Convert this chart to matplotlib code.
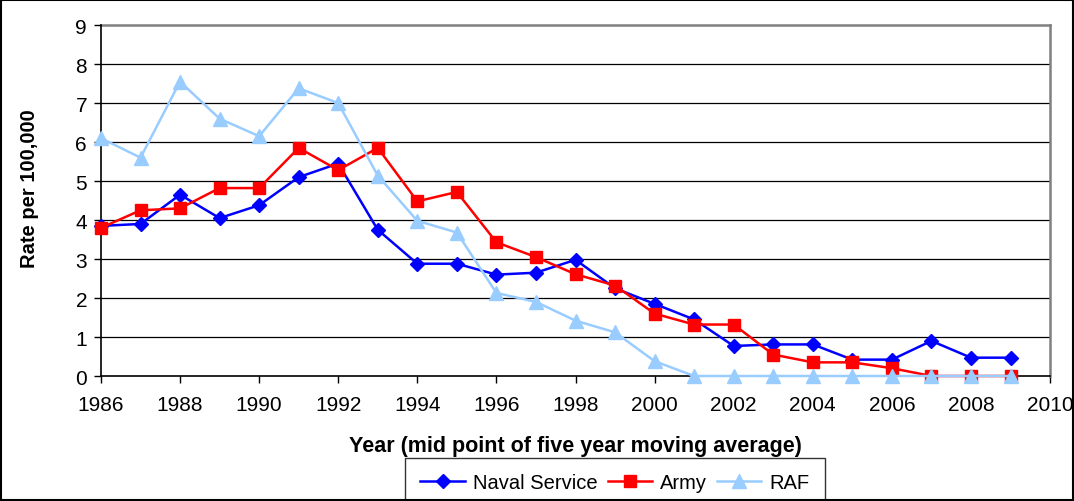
import matplotlib.pyplot as plt
from matplotlib.patches import Rectangle

plt.rcParams['font.family'] = ['Liberation Sans', 'DejaVu Sans']

# Five year moving average rates
years = list(range(1986, 2010))
naval = [3.85, 3.9, 4.65, 4.05, 4.38, 5.1, 5.45, 3.75, 2.88, 2.88, 2.6, 2.65,
         2.98, 2.25, 1.85, 1.45, 0.77, 0.81, 0.81, 0.42, 0.42, 0.9, 0.47, 0.47]
army = [3.8, 4.25, 4.3, 4.82, 4.82, 5.85, 5.28, 5.85, 4.48, 4.72, 3.43, 3.05,
        2.61, 2.32, 1.6, 1.32, 1.32, 0.55, 0.35, 0.35, 0.2, 0.0, 0.0, 0.0]
raf = [6.1, 5.6, 7.55, 6.6, 6.15, 7.38, 7.0, 5.14, 3.98, 3.68, 2.13, 1.9,
       1.42, 1.12, 0.38, 0.0, 0.0, 0.0, 0.0, 0.0, 0.0, 0.0, 0.0, 0.0]

fig = plt.figure(figsize=(10.74, 5.02), dpi=100)
ax = fig.add_axes([0.094, 0.249, 0.8837, 0.699])

ax.plot(years, naval, color='#0000FF', marker='D', markersize=7, lw=1.8,
        label='Naval Service', zorder=3, clip_on=False)
ax.plot(years, army, color='#FF0000', marker='s', markersize=8.5, lw=1.8,
        label='Army', zorder=3, clip_on=False)
ax.plot(years, raf, color='#99CCFF', marker='^', markersize=10, lw=1.8,
        label='RAF', zorder=3, clip_on=False)

ax.set_xlim(1986, 2010)
ax.set_ylim(0, 9)
ax.set_xticks(range(1986, 2011, 2))
ax.set_yticks(range(0, 10))
ax.tick_params(labelsize=15, length=5, width=1, color='black')
ax.tick_params(axis='x', pad=9)
ax.tick_params(axis='y', pad=5)

# horizontal gridlines like the Excel original
for v in range(1, 9):
    ax.axhline(v, color='black', lw=0.9, zorder=1)
ax.axhline(9, color='#808080', lw=1.8, zorder=1, clip_on=False)

ax.spines['top'].set_visible(False)
ax.spines['right'].set_color('#808080')
ax.spines['right'].set_linewidth(1.8)
ax.spines['left'].set_linewidth(1.2)
ax.spines['bottom'].set_linewidth(1.2)

ax.set_ylabel('Rate per 100,000', fontsize=14.5, fontweight='bold')
ax.yaxis.set_label_coords(-0.0653, 0.536)
ax.set_xlabel('Year (mid point of five year moving average)', fontsize=15.5,
              fontweight='bold')
ax.xaxis.set_label_coords(0.5, -0.168)

leg = ax.legend(loc='center', bbox_to_anchor=(0.5726, 1 - 484 / 502),
                bbox_transform=fig.transFigure, ncol=3, fontsize=14.5,
                frameon=True, fancybox=False, borderpad=0.75,
                handlelength=2.2, columnspacing=0.5, handletextpad=0.4)
leg.get_frame().set_edgecolor('black')
leg.get_frame().set_linewidth(1.0)

# outer border of the chart area
fig.patches.append(Rectangle((0.001, 0.001), 0.998, 0.997, transform=fig.transFigure,
                             fill=False, edgecolor='black', lw=1.5))

fig.savefig('out.png', dpi=100)
